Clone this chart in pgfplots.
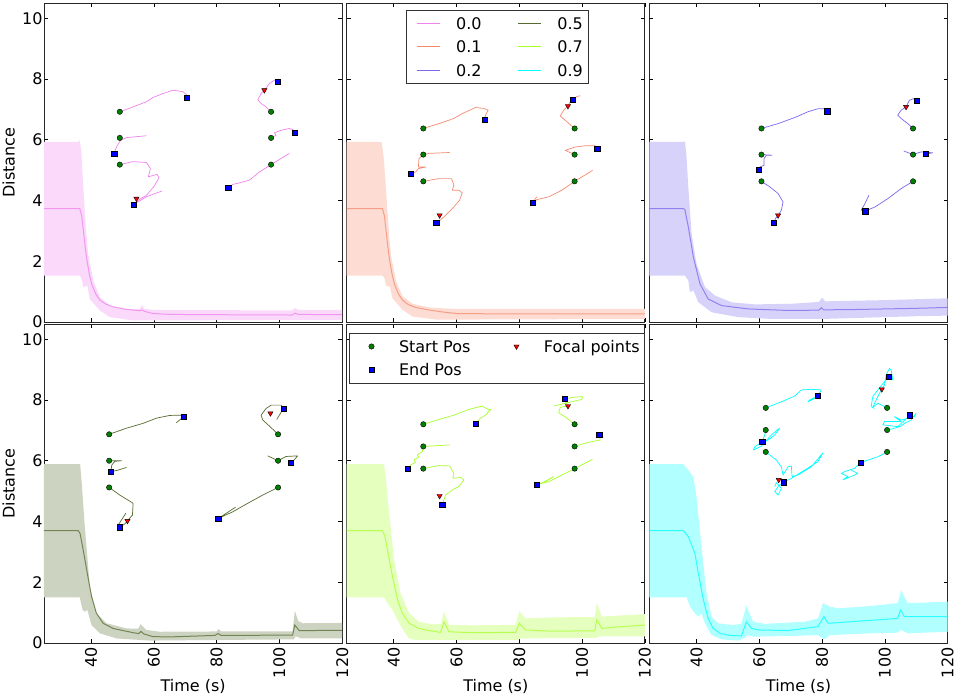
\documentclass[border=0pt]{standalone}
\usepackage{fontspec}
\setmainfont{DejaVu Sans}
\usepackage{pgfplots}
\pgfplotsset{compat=1.18}
\usepgfplotslibrary{groupplots}

\definecolor{c0}{HTML}{EE82EE}
\definecolor{c1}{HTML}{F58A6E}
\definecolor{c2}{HTML}{7B68EE}
\definecolor{c5}{HTML}{556B2F}
\definecolor{c7}{HTML}{A8FF2A}
\definecolor{c9}{HTML}{00FFFF}
\definecolor{gm}{HTML}{008000}

\pgfplotsset{
  band/.style={draw=none, fill=#1!30!white, forget plot},
  mean/.style={color=#1, line width=1pt, draw opacity=0.75, forget plot},
  traj/.style={color=#1, line width=0.7pt, line join=round, forget plot},
  smark/.style={only marks, mark=*, mark size=2.7pt, mark options={fill=gm, draw=black, line width=0.4pt}, forget plot},
  emark/.style={only marks, mark=square*, mark size=2.6pt, mark options={fill=blue, draw=black, line width=0.4pt}, forget plot},
  fmark/.style={only marks, mark=triangle*, mark size=3pt, mark options={fill=red, draw=black, line width=0.4pt, rotate=180}, forget plot},
  leglines/.style={legend image code/.code={\path (0pt,0pt) (28.3pt,0pt); \draw[##1] (5pt,0pt) -- (28.3pt,0pt);}},
  legmarks/.style={legend image code/.code={\path (0pt,0pt) (28.3pt,0pt); \draw[##1] plot coordinates {(16.7pt,0pt)};}},
  legbox/.style={legend cell align=left, legend columns=2,
    legend style={draw=black!80, line width=0.6pt, fill=white, inner xsep=5pt, inner ysep=7.4pt, row sep=11.6pt,
      nodes={inner sep=0pt, text height=11.7pt, text depth=0pt},
      /tikz/every odd column/.append style={column sep=15.6pt}}},
}

\begin{document}
\begin{tikzpicture}[font=\fontsize{16pt}{19pt}\selectfont]
\begin{groupplot}[
  group style={group size=3 by 2, horizontal sep=4.5pt, vertical sep=2pt,
    x descriptions at=edge bottom, y descriptions at=edge left},
  scale only axis, width=298.2pt, height=319pt,
  xmin=25, xmax=120, ymin=0, ymax=10.5,
  xtick={40,60,80,100,120}, ytick={0,2,4,6,8,10},
  tick align=inside, tick pos=both, major tick length=4pt,
  every tick/.style={black, line width=0.6pt},
  axis line style={black!85, line width=0.8pt},
  /pgf/number format/assume math mode=true,
  xticklabel style={rotate=90, anchor=east, inner sep=0pt},
  yticklabel style={anchor=east, inner sep=0pt},
  xticklabel shift=4.3pt, yticklabel shift=1.2pt,
  xlabel={Time (s)}, ylabel={Distance},
  xlabel style={at={(axis description cs:0.5,-0.1505)}, anchor=base, inner sep=0pt},
  ylabel style={at={(axis description cs:-0.097,0.5)}, anchor=south, inner sep=0pt},
]
% ---------------- panel 1 : 0.0
\nextgroupplot
\addplot[band=c0] coordinates {(25,5.93) (35.9,5.93) (36.4,5.98) (36.9,5.6) (37.5,4.45) (38.35,3.08) (39.1,2.2) (40.7,1.37) (42.8,0.82) (46,0.54) (51.3,0.43) (55.5,0.43) (56.2,0.56) (57,0.43) (60,0.4) (80,0.39) (104,0.38) (105,0.46) (106,0.4) (120,0.4)
 (120,0.07) (106,0.07) (60,0.05) (53.4,0.05) (46,0.16) (42.8,0.38) (39.6,0.75) (38.8,1.2) (37.5,1.15) (37,1.42) (36.4,1.53) (25,1.53)} -- cycle;
\addplot[mean=c0] coordinates {(25,3.73) (36.4,3.73) (37,3.5) (37.5,3.05) (38.2,2.4) (38.8,1.95) (39.5,1.55) (40.2,1.25) (41.5,0.92) (42.8,0.72) (44.5,0.6) (47,0.5) (51,0.42) (55.5,0.37) (56.2,0.4) (57,0.35) (59.7,0.28) (65,0.25) (80,0.24) (104,0.23) (105,0.29) (106,0.25) (120,0.24)};
\addplot[traj=c0] coordinates {(49.15,6.92) (53.39,7.08) (57.62,7.25) (59.74,7.39) (62.92,7.52) (66.10,7.63) (69.28,7.58) (70.55,7.47) (70.55,7.39)};
\addplot[traj=c0] coordinates {(57.62,6.13) (51.27,6.07) (49.36,5.98) (48.09,5.76) (47.35,5.55)};
\addplot[traj=c0] coordinates {(49.15,5.18) (53.39,5.28) (57.62,5.25) (58.9,5.05) (58.26,4.78) (61.01,4.86) (61.65,4.75) (59.95,4.45) (57.62,4.17) (54.98,4.01) (53.6,3.87) (57.62,4.12) (62.5,4.31)};
\addplot[traj=c0] coordinates {(97.34,6.92) (95.76,7.08) (94.17,7.19) (93.11,7.32) (94.17,7.52) (95.23,7.63) (96.82,7.85) (98.4,7.96) (99.78,7.96) (99.46,7.90)};
\addplot[traj=c0] coordinates {(97.34,6.06) (98.93,6.15) (98.4,6.23) (100.52,6.31) (103.17,6.37) (104.76,6.31) (104.86,6.23)};
\addplot[traj=c0] coordinates {(103.17,5.55) (99.99,5.35) (97.34,5.18) (93.64,4.94) (90.46,4.67) (87.28,4.58) (85.16,4.53) (83.68,4.42)};
\addplot[smark] coordinates {(49.15,6.92) (49.15,6.06) (49.15,5.18) (97.34,6.92) (97.34,6.06) (97.34,5.18)};
\addplot[emark] coordinates {(70.55,7.39) (47.35,5.55) (53.6,3.87) (99.45,7.90) (104.85,6.22) (83.7,4.42)};
\addplot[fmark] coordinates {(54.45,4.06) (95.2,7.63)};
% ---------------- panel 2 : 0.1
\nextgroupplot[leglines, legbox, legend style={at={(0.198,0.978)}, anchor=north west, /tikz/every even column/.append style={column sep=30.7pt}}]
\addplot[band=c1] coordinates {(25,5.93) (35.6,5.93) (36.2,5.9) (36.9,5.3) (37.5,4.4) (38.35,3.1) (39.1,2.2) (40.7,1.35) (42.8,0.85) (46,0.6) (51.3,0.48) (56,0.45) (60,0.43) (120,0.43)
 (120,0.1) (60,0.08) (53.4,0.08) (46,0.18) (42.8,0.4) (39.6,0.78) (38.8,1.15) (37.5,1.2) (37,1.45) (36.4,1.53) (25,1.53)} -- cycle;
\addplot[mean=c1] coordinates {(25,3.73) (36.4,3.73) (37,3.5) (37.5,3.05) (38.2,2.4) (38.8,1.95) (39.5,1.55) (40.2,1.25) (41.5,0.92) (42.8,0.72) (44.5,0.58) (47,0.48) (51,0.4) (55.5,0.33) (60,0.28) (70,0.27) (120,0.27)};
\addplot[traj=c1] coordinates {(49.41,6.37) (54.39,6.53) (59.16,6.70) (61.81,6.86) (66.05,7.06) (68.69,7.03) (70.07,6.97) (69.22,6.81) (69.01,6.67)};
\addplot[traj=c1] coordinates {(57.78,5.58) (51.21,5.55) (49.41,5.51) (48.04,5.38) (47.83,5.10) (50.16,5.10) (47.83,5.05) (46.98,4.94) (45.50,4.89)};
\addplot[traj=c1] coordinates {(49.41,4.63) (54.39,4.72) (58.42,4.72) (59.16,4.50) (58.63,4.34) (60.75,4.34) (61.81,4.25) (60.96,4.01) (59.16,3.79) (57.57,3.62) (55.98,3.46) (54.60,3.34) (53.54,3.26)};
\addplot[traj=c1] coordinates {(97.61,6.37) (95.17,6.59) (93.05,6.78) (94.11,6.97) (95.49,7.11) (96.23,7.25) (96.97,7.32) (98.35,7.42) (99.41,7.45)};
\addplot[traj=c1] coordinates {(97.61,5.51) (94.64,5.65) (97.82,5.76) (101.0,5.80) (104.18,5.80) (104.81,5.71)};
\addplot[traj=c1] coordinates {(103.33,4.99) (100.47,4.81) (97.61,4.63) (93.58,4.34) (89.35,4.12) (85.64,4.03) (84.16,3.92) (85.11,4.06) (85.64,4.12)};
\addplot[smark] coordinates {(49.41,6.37) (49.41,5.51) (49.41,4.63) (97.61,6.37) (97.61,5.51) (97.61,4.63)};
\addplot[emark] coordinates {(69.01,6.67) (45.5,4.89) (53.54,3.26) (96.97,7.32) (104.81,5.71) (84.16,3.92)};
\addplot[fmark] coordinates {(54.6,3.51) (95.49,7.11)};
\addlegendimage{c0, line width=1.2pt}\addlegendentry{0.0}
\addlegendimage{c5, line width=1.2pt}\addlegendentry{0.5}
\addlegendimage{c1, line width=1.2pt}\addlegendentry{0.1}
\addlegendimage{c7, line width=1.2pt}\addlegendentry{0.7}
\addlegendimage{c2, line width=1.2pt}\addlegendentry{0.2}
\addlegendimage{c9, line width=1.2pt}\addlegendentry{0.9}
% ---------------- panel 3 : 0.2
\nextgroupplot
\addplot[band=c2] coordinates {(25,5.93) (35.8,5.93) (36.3,5.95) (36.8,5.5) (37.4,4.44) (38.45,2.91) (40,1.92) (42.7,1.15) (45.9,0.87) (51.2,0.65) (58.6,0.58) (70,0.6) (79,0.66) (80,0.8) (81,0.68) (90,0.7) (100,0.72) (110,0.75) (120,0.78)
 (120,0.21) (110,0.19) (100,0.16) (90,0.13) (80,0.1) (63.9,0.1) (53.3,0.16) (44.8,0.32) (40.6,0.65) (39,1.04) (37.9,0.98) (37.4,1.37) (36.3,1.53) (25,1.53)} -- cycle;
\addplot[mean=c2] coordinates {(25,3.73) (35.8,3.73) (36.3,3.7) (37.4,3.13) (39,2.14) (41.1,1.26) (43.7,0.76) (48,0.54) (56.5,0.43) (69.2,0.38) (79,0.39) (79.8,0.47) (80.5,0.4) (90,0.41) (100,0.43) (110,0.45) (120,0.48)};
\addplot[traj=c2] coordinates {(60.70,6.37) (65.99,6.53) (71.29,6.73) (75.52,6.92) (78.70,7.02) (80.82,7.02) (81.67,6.94)};
\addplot[traj=c2] coordinates {(60.70,5.51) (64.09,5.49) (62.28,5.49) (61.54,5.38) (61.54,5.16) (60.17,5.10) (59.85,5.02)};
\addplot[traj=c2] coordinates {(60.70,4.63) (63.34,4.45) (65.99,4.23) (67.58,3.95) (67.05,3.68) (65.99,3.51) (65.14,3.40) (64.72,3.26)};
\addplot[traj=c2] coordinates {(108.99,6.37) (107.30,6.53) (105.18,6.70) (104.12,6.81) (105.18,6.97) (106.77,7.08) (107.83,7.30) (109.42,7.36) (110.48,7.32) (110.27,7.28)};
\addplot[traj=c2] coordinates {(106.03,5.63) (108.99,5.51) (111.54,5.60) (115.24,5.57) (113.66,5.54) (113.02,5.54)};
\addplot[traj=c2] coordinates {(108.99,4.63) (105.18,4.39) (100.95,4.06) (96.92,3.79) (93.74,3.65) (92.47,3.68) (93.53,3.87) (94.91,4.17)};
\addplot[smark] coordinates {(60.70,6.37) (60.70,5.51) (60.70,4.63) (108.99,6.37) (108.99,5.51) (108.99,4.63)};
\addplot[emark] coordinates {(81.67,6.94) (59.85,5.02) (64.72,3.26) (110.27,7.28) (113.02,5.54) (93.74,3.65)};
\addplot[fmark] coordinates {(65.99,3.51) (106.77,7.08)};
% ---------------- panel 4 : 0.5
\nextgroupplot
\addplot[band=c5] coordinates {(25,5.89) (35.9,5.89) (36.5,5.9) (37,5.3) (37.4,4.7) (38,3.83) (39.6,1.85) (41.7,0.98) (44.9,0.65) (51.3,0.48) (55,0.47) (55.8,0.62) (57.6,0.43) (61.9,0.37) (80,0.38) (80.6,0.46) (81.5,0.38) (104.2,0.38) (104.9,1.06) (106,0.72) (107.5,0.65) (120,0.66)
 (120,0.15) (107,0.15) (105.2,0.22) (104.5,0.12) (80,0.1) (58.7,0.08) (48.1,0.15) (42.8,0.32) (40.15,0.59) (38.8,1.09) (38,1.03) (37.3,1.09) (36.4,1.5) (25,1.5)} -- cycle;
\addplot[mean=c5] coordinates {(25,3.7) (35.9,3.7) (36.5,3.6) (37.5,3.06) (38.8,2.29) (40.15,1.53) (41.7,0.98) (43.85,0.65) (47,0.48) (53.4,0.34) (55.2,0.31) (55.9,0.38) (56.8,0.3) (59.7,0.21) (65,0.2) (79.5,0.25) (80.4,0.31) (81.5,0.25) (104.2,0.26) (104.9,0.59) (106.3,0.41) (110,0.41) (120,0.42)};
\addplot[traj=c5] coordinates {(45.76,6.87) (51.27,7.07) (56.56,7.23) (60.80,7.40) (65.04,7.49) (68.75,7.50) (69.59,7.45) (68.22,7.34) (67.16,7.25)};
\addplot[traj=c5] coordinates {(45.76,6.00) (49.68,6.00) (47.56,5.98) (46.61,5.86) (46.29,5.64) (48.62,5.69) (51.27,5.78)};
\addplot[traj=c5] coordinates {(45.76,5.12) (49.15,4.87) (53.39,4.60) (53.18,4.21) (51.80,4.05) (50.74,3.92) (49.15,3.81) (48.62,3.88) (51.06,4.27)};
\addplot[traj=c5] coordinates {(99.57,6.87) (96.82,7.14) (94.70,7.34) (94.17,7.50) (95.76,7.72) (97.34,7.83) (100.52,7.83) (101.26,7.72) (99.99,7.50) (99.14,7.36)};
\addplot[traj=c5] coordinates {(96.29,6.16) (99.57,6.00) (102.11,6.14) (105.82,6.16) (104.23,5.97) (103.70,5.94)};
\addplot[traj=c5] coordinates {(99.57,5.12) (94.70,4.87) (89.93,4.60) (85.16,4.32) (80.50,4.10) (83.04,4.27) (86.01,4.47)};
\addplot[smark] coordinates {(45.76,6.87) (45.76,6.00) (45.76,5.12) (99.57,6.87) (99.57,6.00) (99.57,5.12)};
\addplot[emark] coordinates {(69.59,7.45) (46.29,5.64) (49.15,3.81) (101.26,7.72) (103.70,5.94) (80.50,4.10)};
\addplot[fmark] coordinates {(51.59,4.02) (97.13,7.56)};
% ---------------- panel 5 : 0.7
\nextgroupplot[legmarks, legbox, legend style={at={(0.0084,0.972)}, anchor=north west, /tikz/every even column/.append style={column sep=29.1pt}}]
\addplot[band=c7] coordinates {(25,5.89) (36.9,5.89) (37.5,5.4) (38,4.8) (39,3.83) (40.1,2.73) (42.2,1.63) (44.9,0.98) (48,0.7) (51.2,0.63) (55,0.62) (56,1.03) (57.6,0.6) (65,0.58) (78.8,0.6) (80,1.05) (81.9,0.81) (90,0.84) (104,0.86) (104.7,1.33) (106.3,0.87) (120,0.95)
 (120,0.22) (105.5,0.22) (104.5,0.17) (80.5,0.15) (79.5,0.1) (60,0.1) (47,0.1) (44.9,0.15) (43.3,0.37) (41.2,0.76) (39.6,1.09) (38,1.31) (36.9,1.5) (25,1.5)} -- cycle;
\addplot[mean=c7] coordinates {(25,3.7) (36.4,3.7) (37.2,3.5) (38,3.06) (39.6,2.18) (41.2,1.42) (42.7,0.98) (44.9,0.65) (48,0.48) (51.2,0.41) (54.9,0.35) (56,0.7) (57.6,0.37) (65,0.34) (78.8,0.35) (80,0.65) (81.9,0.43) (90,0.39) (104,0.4) (104.7,0.76) (106.3,0.48) (110,0.52) (120,0.59)};
\addplot[traj=c7] coordinates {(49.41,7.20) (54.39,7.36) (59.16,7.50) (63.93,7.69) (68.16,7.80) (70.28,7.67) (70.92,7.69) (69.22,7.50) (67.63,7.40) (66.04,7.23)};
\addplot[traj=c7] coordinates {(57.78,6.52) (51.21,6.48) (49.41,6.47) (49.10,6.30) (47.51,6.19) (48.0,6.12) (46.45,6.03) (46.9,5.95) (45.39,5.86) (44.44,5.74)};
\addplot[traj=c7] coordinates {(49.41,5.74) (54.39,5.84) (57.78,5.83) (59.16,5.58) (58.84,5.42) (61.28,5.45) (62.34,5.37) (60.75,5.15) (58.63,5.04) (56.51,4.87) (55.98,4.71) (55.45,4.54)};
\addplot[traj=c7] coordinates {(97.61,7.20) (95.17,7.40) (92.53,7.58) (93.05,7.76) (95.49,7.80) (94.64,7.94) (94.43,8.03) (97.29,8.09) (100.15,8.11) (99.94,8.02) (90.94,7.80)};
\addplot[traj=c7] coordinates {(97.61,6.47) (99.94,6.55) (103.12,6.63) (105.77,6.68) (105.45,6.85) (106.83,6.77)};
\addplot[traj=c7] coordinates {(103.33,6.05) (100.47,5.89) (97.61,5.74) (93.58,5.53) (89.35,5.31) (85.64,5.22) (88.29,5.31) (90.94,5.48) (87.23,5.26)};
\addplot[smark] coordinates {(49.41,7.20) (49.41,6.47) (49.41,5.74) (97.61,7.20) (97.61,6.47) (97.61,5.74)};
\addplot[emark] coordinates {(66.04,7.23) (44.44,5.74) (55.45,4.54) (94.43,8.03) (105.45,6.85) (85.64,5.22)};
\addplot[fmark] coordinates {(54.6,4.84) (95.49,7.80)};
\addlegendimage{only marks, mark=*, mark size=2.7pt, mark options={fill=gm, draw=black, line width=0.4pt}}\addlegendentry{Start Pos}
\addlegendimage{only marks, mark=triangle*, mark size=3pt, mark options={fill=red, draw=black, line width=0.4pt, rotate=180}}\addlegendentry{Focal points}
\addlegendimage{only marks, mark=square*, mark size=2.6pt, mark options={fill=blue, draw=black, line width=0.4pt}}\addlegendentry{End Pos}
% ---------------- panel 6 : 0.9
\nextgroupplot
\addplot[band=c9] coordinates {(25,5.89) (35.8,5.89) (37.4,5.69) (39,5.47) (40,4.82) (41.6,3.17) (43.2,1.63) (44.8,0.87) (46.9,0.65) (51.2,0.59) (54.3,0.63) (55.9,1.23) (58,0.7) (61.8,0.63) (74.5,0.7) (78.7,0.81) (80.3,1.31) (82.4,1.2) (85.1,1.14) (95.7,1.22) (104.1,1.31) (105.2,1.74) (107.3,1.31) (120,1.36)
 (120,0.37) (107.3,0.32) (105.2,0.43) (104.1,0.34) (95.7,0.32) (82.4,0.26) (80.8,0.12) (78.7,0.26) (69.2,0.23) (58,0.21) (56.5,0.26) (54.9,0.15) (53.3,0.08) (48,0.12) (44.8,0.26) (42.7,0.65) (41.6,0.98) (40.6,0.87) (39.5,0.98) (37.9,1.2) (36.9,1.5) (25,1.5)} -- cycle;
\addplot[mean=c9] coordinates {(25,3.7) (35.8,3.7) (37.4,3.5) (39.5,2.95) (40.6,2.29) (42.2,1.42) (43.7,0.81) (45.3,0.48) (47.5,0.32) (50.1,0.26) (54.3,0.23) (55.9,0.7) (57.5,0.48) (59.6,0.43) (69.2,0.41) (78.7,0.54) (80.6,0.87) (81.9,0.65) (85.1,0.67) (104.1,0.81) (105,1.09) (106.2,0.87) (120,0.87)};
\addplot[traj=c9] coordinates {(62.07,7.74) (67.05,7.94) (71.29,8.13) (73.41,8.33) (76.58,8.35) (79.76,8.33) (78.70,8.13) (76.05,8.00) (75.52,7.94) (77.64,8.05)};
\addplot[traj=c9] coordinates {(62.07,7.01) (61.75,6.85) (60.91,6.62) (58.58,6.46) (58.05,6.35) (60.70,6.48) (63.87,6.85) (65.46,6.99) (66.52,7.07) (64.93,6.85) (62.81,6.68) (59.64,6.52)};
\addplot[traj=c9] coordinates {(62.07,6.29) (65.46,6.02) (67.05,5.80) (67.58,5.53) (69.17,5.80) (70.23,5.83) (70.44,5.48) (72.35,5.53) (76.58,5.80) (80.29,6.26) (78.70,5.97) (74.47,5.69) (70.23,5.42) (67.79,5.29) (65.99,5.15) (64.93,4.98) (65.99,4.87) (67.05,5.09) (65.46,5.28) (64.93,5.15)};
\addplot[traj=c9] coordinates {(100.73,7.74) (97.77,7.89) (96.18,7.76) (97.24,8.00) (98.30,8.22) (99.04,8.35) (99.89,8.49) (100.42,8.82) (101.48,9.04) (102.01,8.99) (102.54,8.66) (101.16,8.77) (99.89,8.60) (97.77,8.33) (96.18,8.11) (95.65,7.78) (96.71,7.72)};
\addplot[traj=c9] coordinates {(100.73,7.01) (103.07,7.07) (105.18,7.14) (106.24,7.23) (108.36,7.34) (109.95,7.56) (109.42,7.45) (105.18,7.34) (103.07,7.45) (105.18,7.29) (99.89,7.29) (99.36,7.18) (104.12,7.12) (108.04,7.50)};
\addplot[traj=c9] coordinates {(100.73,6.29) (97.77,6.13) (94.59,6.02) (92.26,5.94) (90.36,5.75) (87.18,5.64) (86.12,5.58) (88.24,5.48) (86.65,5.37) (89.30,5.48) (91.42,5.58) (89.30,5.69)};
\addplot[smark] coordinates {(62.07,7.74) (62.07,7.01) (62.07,6.29) (100.73,7.74) (100.73,7.01) (100.73,6.29)};
\addplot[emark] coordinates {(78.70,8.13) (60.91,6.62) (67.79,5.29) (101.16,8.77) (108.04,7.50) (92.26,5.94)};
\addplot[fmark] coordinates {(66.2,5.37) (99.04,8.35)};
\end{groupplot}
\pgfresetboundingbox
\path[use as bounding box] (group c1r1.north west) ++(-44pt,3pt) rectangle ++(957pt,-697pt);
\end{tikzpicture}
\end{document}
